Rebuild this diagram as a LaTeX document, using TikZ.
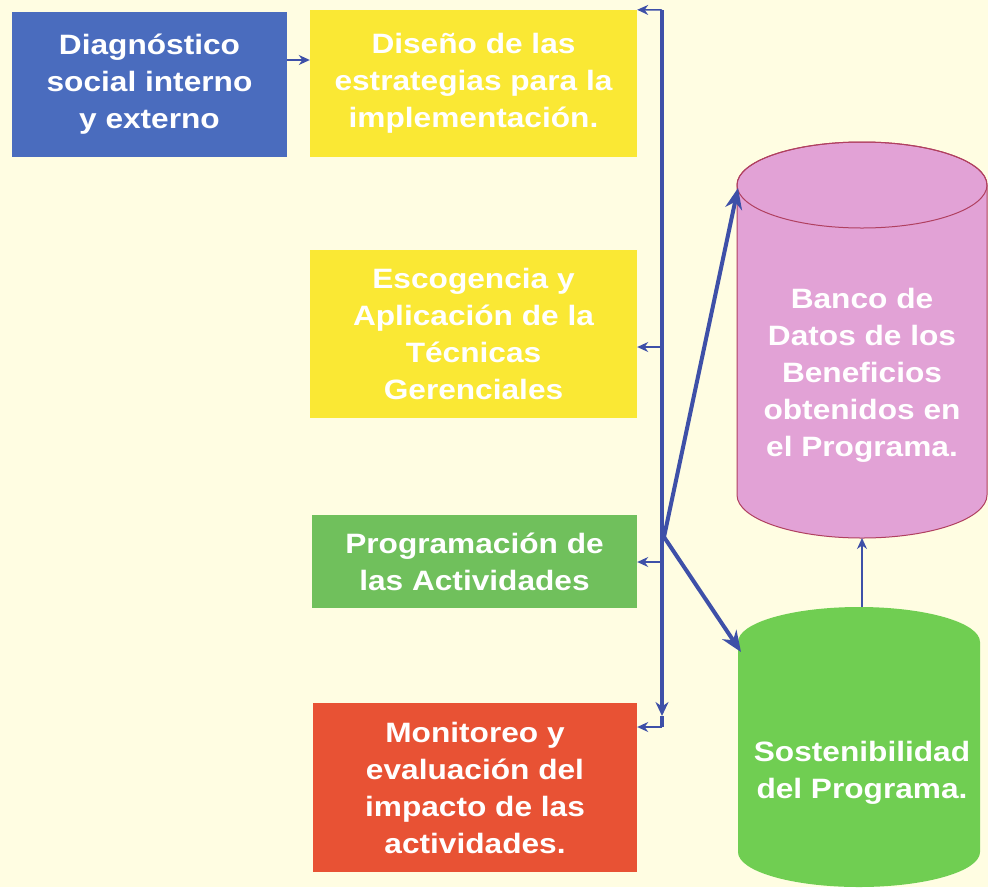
\documentclass[tikz,border=0pt]{standalone}
\usepackage{fontspec}
\setmainfont{Liberation Sans}[FakeStretch=1.13]
\usetikzlibrary{arrows.meta}

\definecolor{fondo}{RGB}{255,253,226}
\definecolor{azulcaja}{RGB}{74,108,190}
\definecolor{amarillo}{RGB}{250,232,52}
\definecolor{verdecaja}{RGB}{112,192,92}
\definecolor{rojo}{RGB}{232,82,52}
\definecolor{rosa}{RGB}{226,162,214}
\definecolor{rosaborde}{RGB}{176,64,96}
\definecolor{verdecil}{RGB}{112,206,82}
\definecolor{linea}{RGB}{62,80,168}

\begin{document}
\begin{tikzpicture}[x=1pt,y=-1pt,
    caja/.style={rectangle, inner sep=0pt, align=center, text=white,
        font=\bfseries\fontsize{28}{37}\selectfont},
    tronco/.style={draw=linea, line width=3.5pt},
    flechita/.style={draw=linea, line width=1.5pt, -{Stealth[length=11pt,width=10pt]}},
    flechagrande/.style={draw=linea, line width=4pt, -{Stealth[length=21pt,width=17pt]}}]
    \fill[fondo] (0,0) rectangle (988,887);
    \useasboundingbox (0,0) rectangle (988,887);

    \node[caja, fill=azulcaja, minimum width=275pt, minimum height=145pt] (diag) at (149.5,84.5)
        {Diagnóstico\\social interno\\y externo};
    \node[caja, fill=amarillo, minimum width=327pt, minimum height=147pt] (disenio) at (473.5,83.5)
        {Diseño de las\\estrategias para la\\implementación.};
    \node[caja, fill=amarillo, minimum width=327pt, minimum height=168pt] (escog) at (473.5,334)
        {Escogencia y\\Aplicación de la\\Técnicas\\Gerenciales};
    \node[caja, fill=verdecaja, minimum width=325pt, minimum height=93pt] (progr) at (474.5,561.5)
        {Programación de\\las Actividades};
    \node[caja, fill=rojo, minimum width=324pt, minimum height=169pt] (monit) at (475,787.5)
        {Monitoreo y\\evaluación del\\impacto de las\\actividades.};

    \filldraw[fill=rosa, draw=rosaborde, line width=1pt] (737,185) -- (737,495)
        arc[start angle=180, end angle=0, x radius=125, y radius=43] -- (987,185)
        arc[start angle=0, end angle=-180, x radius=125, y radius=43] -- cycle;
    \draw[rosaborde, line width=1pt] (862,185) ellipse [x radius=125, y radius=43];
    \node[caja] (banco) at (862,375) {Banco de\\Datos de los\\Beneficios\\obtenidos en\\el Programa.};

    \fill[verdecil] (738,642) -- (738,852)
        arc[start angle=180, end angle=0, x radius=121, y radius=35] -- (980,642)
        arc[start angle=0, end angle=-180, x radius=121, y radius=35] -- cycle;
    \node[caja] (soste) at (862,773) {Sostenibilidad\\del Programa.};

    \coordinate (d1) at (287,60);
    \coordinate (troncoarriba) at (662,10);
    \coordinate (troncomedio) at (662,716);
    \coordinate (troncoabajo) at (662,727);
    \coordinate (t2) at (662,347);
    \coordinate (t3) at (662,562);
    \coordinate (cruce) at (664,537);
    \coordinate (bancoizq) at (738,188);
    \coordinate (bancoabajo) at (862,538);
    \coordinate (sosteizq) at (741,652);
    \coordinate (sostearriba) at (862,607);

    \draw[flechita] (d1) -- (d1 -| disenio.west);
    \draw[tronco, -{Stealth[length=14pt,width=13pt]}] (troncoarriba) -- (troncomedio);
    \draw[tronco] (troncomedio) -- (troncoabajo);
    \draw[flechita] (troncoarriba) -- (disenio.north east);
    \draw[flechita] (t2) -- (t2 -| escog.east);
    \draw[flechita] (t3) -- (t3 -| progr.east);
    \draw[flechita] (troncoabajo) -- (troncoabajo -| monit.east);
    \draw[flechagrande] (cruce) -- (bancoizq);
    \draw[flechagrande] (cruce) -- (sosteizq);
    \draw[flechita] (sostearriba) -- (bancoabajo);
\end{tikzpicture}
\end{document}
